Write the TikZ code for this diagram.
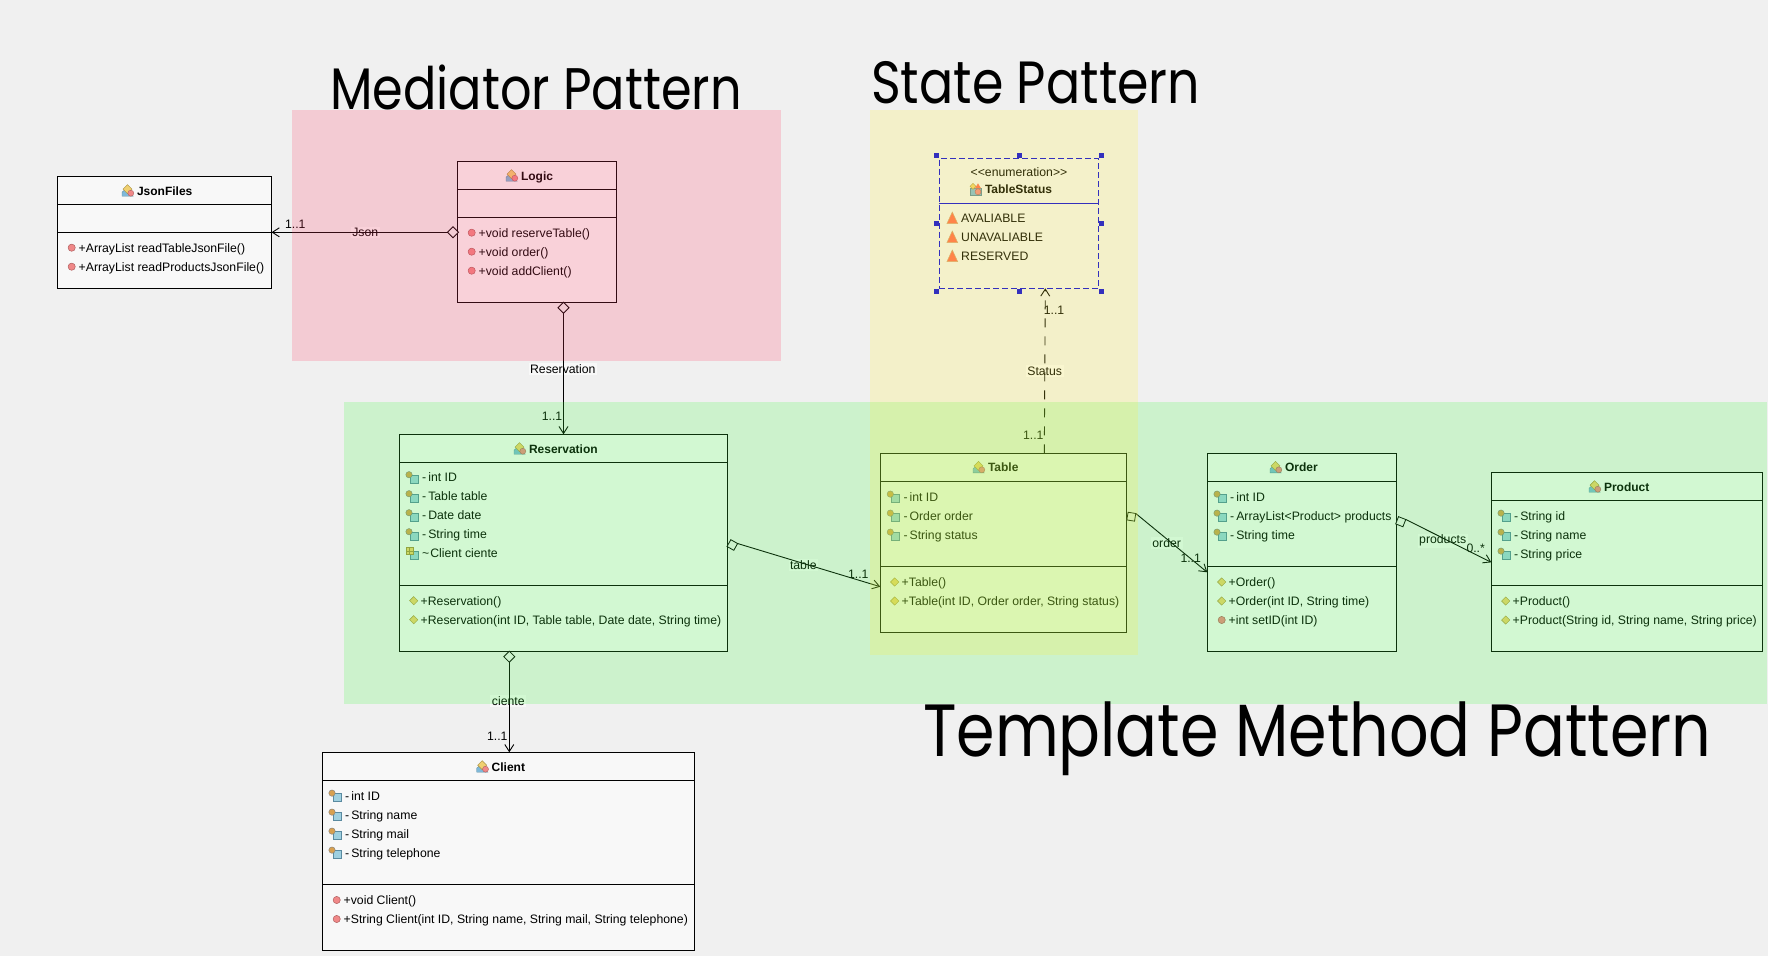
\documentclass[tikz,border=0pt]{standalone}
\usepackage{fontspec}
\setmainfont{Liberation Sans}
\newfontfamily\bigfont{Poppins}
\usetikzlibrary{arrows.meta,shapes.geometric}
\definecolor{bgc}{HTML}{F0F0F0}
\definecolor{boxc}{HTML}{F8F8F8}
\definecolor{enumfillc}{HTML}{F2F2F2}
\definecolor{pinkov}{RGB}{255,55,95}
\definecolor{greenov}{RGB}{60,250,60}
\definecolor{yellowov}{RGB}{255,240,45}
\definecolor{handlec}{RGB}{0,0,225}
\definecolor{basec}{HTML}{7FB8D8}
\definecolor{baselc}{HTML}{5A8AA0}
\definecolor{fieldc}{HTML}{9FD0E0}
\definecolor{lockc}{HTML}{D8A050}
\definecolor{dmdc}{HTML}{F0D070}
\definecolor{dmdlc}{HTML}{A89040}
\definecolor{redc}{HTML}{F08888}
\definecolor{redlc}{HTML}{B06060}
\definecolor{triac}{HTML}{FF6A50}
\newcounter{rowc}
\tikzset{
  classbox/.style={draw=black,fill=boxc,line width=1.1pt,inner sep=0pt,outer sep=0pt},
  enumbox/.style={draw=handlec,fill=enumfillc,dashed,dash pattern=on 6pt off 3pt,line width=1.1pt,inner sep=0pt,outer sep=0pt},
  rowtext/.style={anchor=base west,inner sep=0pt,font=\fontsize{12.25}{14}\selectfont},
  headtext/.style={anchor=base west,inner sep=0pt,font=\fontsize{12}{14}\selectfont\bfseries},
  linktext/.style={inner sep=1.5pt,fill=boxc,font=\fontsize{12.25}{14}\selectfont},
  multtext/.style={inner sep=0pt,font=\fontsize{12.25}{14}\selectfont},
  aggr/.style={diamond,draw=black,fill=bgc,line width=.8pt,inner sep=0pt,outer sep=0pt,minimum width=11pt,minimum height=11pt,aspect=1},
  assoc/.style={draw=black,line width=.9pt,-{Straight Barb[length=7pt,width=9pt,line width=.9pt]}},
  handle/.style={fill=handlec,draw=none,minimum size=5.4pt,inner sep=0pt},
  overlayband/.style={draw=none,fill opacity=.2},
  bigtitle/.style={anchor=base west,inner sep=0pt,text=black},
}
\newcommand\umlclass[8][classbox]{%
  \node[#1,minimum width={(#5-#3)},minimum height={(#6-#4)}] (#2) at ({(#3+#5)/2},{(#4+#6)/2}) {};
  \draw[line width=1.1pt,draw=#8] (#2.west |- 0,#7) -- (#2.east |- 0,#7);
}
\newcommand\classicon[2]{\begin{scope}[shift={(#1,#2)}]
  \fill[fill=basec,draw=baselc,line width=.4pt] (-6,5.5) -- (-6,1.5) -- (-3,-1) -- (5,5.5) -- cycle;
  \fill[fill=dmdc,draw=dmdlc,line width=.4pt] (-.5,-6) -- (4,-1.5) -- (-.5,3) -- (-5,-1.5) -- cycle;
  \fill[fill=redc,draw=redlc,line width=.4pt] (2.8,2.5) circle (3);
\end{scope}}
\newcommand\enumclassicon[2]{\begin{scope}[shift={(#1,#2)}]
  \fill[fill=basec,draw=baselc,line width=.4pt] (-6,-1) rectangle (5,5.5);
  \fill[fill=dmdc,draw=dmdlc,line width=.4pt] (-3,-6) -- (0,-3) -- (-3,0) -- (-6,-3) -- cycle;
  \fill[fill=triac] (2,-6) -- (5,-1) -- (-1,-1) -- cycle;
  \fill[fill=redc,draw=redlc,line width=.4pt] (2,2.5) circle (3);
\end{scope}}
\newcommand\fieldicon[2]{\begin{scope}[shift={(#1-10,#2)}]
  \fill[fill=fieldc,draw=baselc,line width=.5pt] (-2,-2) rectangle (6,5.5);
  \fill[fill=lockc,draw=gray,line width=.4pt] (-3,-2.6) circle (3.2);
\end{scope}}
\newcommand\gridicon[2]{\begin{scope}[shift={(#1-10,#2)}]
  \fill[fill=fieldc,draw=baselc,line width=.5pt] (-2,-2) rectangle (6,5.5);
  \fill[fill=dmdc,draw=dmdlc,line width=.4pt] (-6,-6) rectangle (1,1);
  \draw[dmdlc,line width=.4pt] (-2.5,-6) -- (-2.5,1) (-6,-2.5) -- (1,-2.5);
\end{scope}}
\newcommand\methicon[2]{\fill[fill=redc,draw=redlc,line width=.5pt] (#1-7.3,#2) circle (3.6);}
\newcommand\ctoricon[2]{\fill[fill=dmdc,draw=dmdlc,line width=.4pt] (#1-7.3,#2-4.2) -- (#1-3.1,#2) -- (#1-7.3,#2+4.2) -- (#1-11.5,#2) -- cycle;}
\newcommand\consticon[2]{\fill[fill=triac,draw=brown!70,line width=.5pt] (#1-8.7,#2-6.3) -- (#1-3.3,#2+5.3) -- (#1-14.1,#2+5.3) -- cycle;}
\newcommand\trow[3]{\stepcounter{rowc}\node[rowtext] (r\arabic{rowc}) at (#1,#2+4.3) {#3};}
\newcommand\frow[3]{\fieldicon{#1}{#2}\trow{#1}{#2}{-\kern2pt #3}}
\newcommand\grow[3]{\gridicon{#1}{#2}\trow{#1}{#2}{\textasciitilde\kern1pt #3}}
\newcommand\mrow[3]{\methicon{#1}{#2}\trow{#1-.5}{#2}{+#3}}
\newcommand\crow[3]{\ctoricon{#1}{#2}\trow{#1-.5}{#2}{+#3}}
\newcommand\erow[3]{\consticon{#1}{#2}\trow{#1}{#2}{#3}}
\newcommand\hrow[4][\classicon]{#1{#2}{#3}\stepcounter{rowc}\node[headtext] (h\arabic{rowc}) at (#2+8.8,#3+4.3) {#4};}
\begin{document}
\begin{tikzpicture}[x=1pt,y=-1pt]
\useasboundingbox (0,0) rectangle (1768,956);
\fill[bgc] (0,0) rectangle (1768,956);

% classes
\umlclass{jsonfiles}{57.2}{176.3}{271.5}{288.3}{204.3}{black}
\draw[line width=1.1pt] (jsonfiles.west |- 0,232.3) -- (jsonfiles.east |- 0,232.3);
\hrow{128}{190.7}{JsonFiles}
\mrow{79}{247.7}{ArrayList readTableJsonFile()}
\mrow{79}{266.7}{ArrayList readProductsJsonFile()}

\umlclass{logic}{457.5}{161.3}{616.7}{302.3}{189.3}{black}
\draw[line width=1.1pt] (logic.west |- 0,217.3) -- (logic.east |- 0,217.3);
\hrow{512}{175.7}{Logic}
\mrow{479}{232.7}{void reserveTable()}
\mrow{479}{251.7}{void order()}
\mrow{479}{270.7}{void addClient()}

\umlclass[enumbox]{tablestatus}{939.3}{158.3}{1098.7}{288.3}{203.3}{handlec}
\node[rowtext,anchor=base] (stereo) at (1019,176.7) {{<}{<}enumeration{>}{>}};
\hrow[\enumclassicon]{976}{189.3}{TableStatus}
\erow{961}{218.3}{AVALIABLE}
\erow{961}{237.3}{UNAVALIABLE}
\erow{961}{256.3}{RESERVED}
\foreach \hx/\hy [count=\hi] in {936.3/155.3,1019.3/155.3,1101.7/155.3,936.3/223.3,1101.7/223.3,936.3/291.3,1019.3/291.3,1101.7/291.3}
  \node[handle] (hd\hi) at (\hx,\hy) {};

\umlclass{reservation}{399.3}{434.3}{727.3}{651.3}{462.3}{black}
\draw[line width=1.1pt] (reservation.west |- 0,585.3) -- (reservation.east |- 0,585.3);
\hrow{520}{448.7}{Reservation}
\frow{422}{477.3}{int ID}
\frow{422}{496.3}{Table table}
\frow{422}{515.3}{Date date}
\frow{422}{534.3}{String time}
\grow{422}{553.3}{Client ciente}
\crow{421}{600.7}{Reservation()}
\crow{421}{619.7}{Reservation(int ID, Table table, Date date, String time)}

\umlclass{table}{880.3}{453.3}{1126.3}{632.3}{481.3}{black}
\draw[line width=1.1pt] (table.west |- 0,566.3) -- (table.east |- 0,566.3);
\hrow{979}{467.3}{Table}
\frow{903.3}{496.7}{int ID}
\frow{903.3}{515.7}{Order order}
\frow{903.3}{534.7}{String status}
\crow{902}{582}{Table()}
\crow{902}{601}{Table(int ID, Order order, String status)}

\umlclass{order}{1207.3}{453.3}{1396.3}{651.3}{481.3}{black}
\draw[line width=1.1pt] (order.west |- 0,566.3) -- (order.east |- 0,566.3);
\hrow{1276}{467.3}{Order}
\frow{1230}{496.7}{int ID}
\frow{1230}{515.7}{ArrayList<Product> products}
\frow{1230}{534.7}{String time}
\crow{1229}{582}{Order()}
\crow{1229}{601}{Order(int ID, String time)}
\mrow{1229}{620}{int setID(int ID)}

\umlclass{product}{1491.3}{472.3}{1762.3}{651.3}{500.3}{black}
\draw[line width=1.1pt] (product.west |- 0,585.3) -- (product.east |- 0,585.3);
\hrow{1595}{486.7}{Product}
\frow{1514}{515.7}{String id}
\frow{1514}{534.7}{String name}
\frow{1514}{553.7}{String price}
\crow{1513}{601}{Product()}
\crow{1513}{620}{Product(String id, String name, String price)}

\umlclass{client}{322.3}{752.3}{694.3}{950.3}{780.3}{black}
\draw[line width=1.1pt] (client.west |- 0,884.3) -- (client.east |- 0,884.3);
\hrow{482.7}{766.7}{Client}
\frow{345}{795.7}{int ID}
\frow{345}{814.7}{String name}
\frow{345}{833.7}{String mail}
\frow{345}{852.7}{String telephone}
\mrow{344}{900}{void Client()}
\mrow{344}{919}{String Client(int ID, String name, String mail, String telephone)}

% connector labels (behind the lines)
\node[linktext] (lJson) at (365.3,232.7) {Json};
\node[linktext] (lRes) at (562.8,368.7) {Reservation};
\node[linktext] (lStatus) at (1044.7,371.3) {Status};
\node[linktext] (lTable) at (803.3,564.7) {table};
\node[linktext] (lOrder) at (1166.7,542.7) {order};
\node[linktext] (lProducts) at (1442.7,540.7) {products};
\node[linktext] (lCiente) at (508.3,701.3) {ciente};

% aggregation diamonds
\node[aggr] (dJson) at (453,232.3) {};
\node[aggr] (dRes) at (563.5,307.7) {};
\node[aggr] (dCli) at (509.3,656.7) {};
\node[aggr,rotate=15.7] (dTab) at (732.3,545) {};
\node[aggr,rotate=35.8] (dOrd) at (1131.3,516.7) {};
\node[aggr,rotate=23.8] (dPro) at (1400.7,521.7) {};

% connectors
\draw[assoc] (dJson.west) -- (jsonfiles.east |- dJson.west);
\draw[assoc] (dRes.south) -- (dRes.south |- reservation.north);
\draw[assoc] (dCli.south) -- (dCli.south |- client.north);
\draw[assoc] (dTab.east) -- (table.west |- 0,586.7);
\draw[assoc] (dOrd.east) -- (order.west |- 0,572.3);
\draw[assoc] (dPro.east) -- (product.west |- 0,562.3);
\draw[assoc,dash pattern=on 9pt off 9pt] (table.north -| 1044.3,0) -- (tablestatus.south -| 1045.3,0);

% multiplicities
\node[multtext] (m1) at (295.3,224) {1..1};
\node[multtext] (m2) at (552,416.7) {1..1};
\node[multtext] (m3) at (1054,310) {1..1};
\node[multtext] (m4) at (1033.3,435) {1..1};
\node[multtext] (m5) at (858.3,574.7) {1..1};
\node[multtext] (m6) at (1190.7,558.7) {1..1};
\node[multtext] (m7) at (1475.7,548.7) {0..*};
\node[multtext] (m8) at (497.3,736) {1..1};

% translucent bands laid over the diagram
\fill[overlayband,pinkov] (292.2,110) rectangle (781.4,360.7);
\fill[overlayband,greenov] (343.9,401.7) rectangle (1767,703.5);
\fill[overlayband,yellowov] (869.7,110) rectangle (1138,655);

% band titles
\node[bigtitle,xscale=.842,font=\bigfont\fontsize{58.6}{62}\selectfont] (tMed) at (330,109.3) {Mediator Pattern};
\node[bigtitle,xscale=.85,font=\bigfont\fontsize{59.6}{62}\selectfont] (tSta) at (871,103.5) {State Pattern};
\node[bigtitle,xscale=.837,font=\bigfont\fontsize{74}{78}\selectfont] (tTem) at (923,756.7) {Template Method Pattern};
\end{tikzpicture}
\end{document}
